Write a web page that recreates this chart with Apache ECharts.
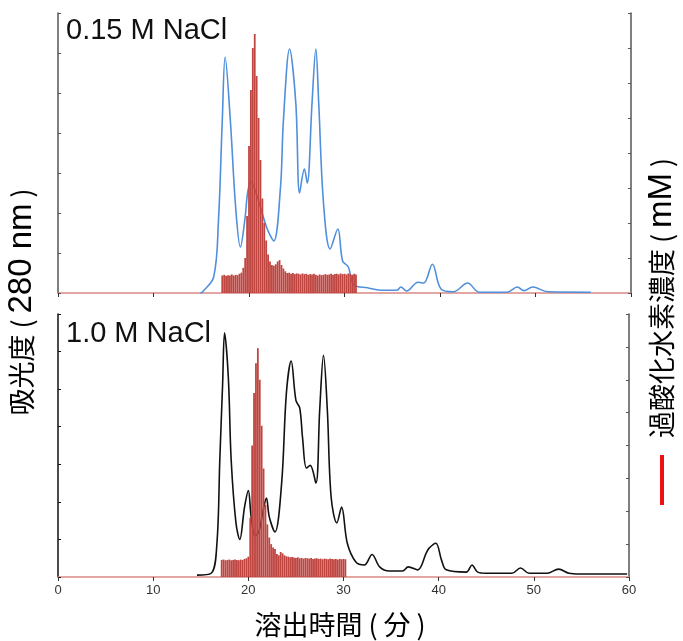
<!DOCTYPE html>
<html>
<head>
<meta charset="utf-8">
<script src="https://cdn.jsdelivr.net/npm/echarts@6/dist/echarts.min.js"></script>
<style>html,body{margin:0;padding:0;background:#fff}#c{width:683px;height:641px}</style>
</head>
<body>
<div id="c"></div>
<script>
// ---- Data ----
const xTicks = [0, 10, 20, 30, 40, 50, 60];

// Top panel (0.15 M NaCl) absorbance 280 nm (blue)
const topAbsTime  = [14.9, 15.1, 16.3, 16.8, 17.2, 17.5, 18.05, 18.6, 19.1, 19.6, 19.85, 20.2, 20.6, 21.0, 21.5, 22.0, 22.6, 23.3, 23.6, 24.25, 24.9, 25.3, 25.8, 26.1, 26.6, 27.0, 27.3, 27.8, 28.5, 29.3, 29.8, 30.4, 31.0, 32.4, 33.8, 35.5, 35.9, 36.5, 37.7, 38.3, 39.2, 40.1, 41.4, 42.9, 44.1, 47.0, 48.1, 48.8, 49.7, 51.3, 55.8];
const topAbsValue = [0.0, 0.02, 0.4, 1.8, 4.3, 5.9, 4.3, 2.15, 1.15, 1.9, 2.5, 2.8, 2.6, 2.3, 1.9, 1.55, 1.3, 2.65, 4.3, 6.1, 4.75, 2.5, 3.1, 2.75, 4.75, 6.1, 4.75, 2.25, 1.1, 1.6, 0.8, 0.65, 0.2, 0.13, 0.07, 0.07, 0.15, 0.05, 0.27, 0.25, 0.72, 0.1, 0.03, 0.25, 0.02, 0.02, 0.15, 0.06, 0.15, 0.03, 0.02];

// Top panel hydrogen peroxide (red bars)
const topH2O2Time  = [17.2, 17.4, 17.6, 17.8, 18.0, 18.2, 18.4, 18.6, 18.8, 19.0, 19.2, 19.4, 19.6, 19.8, 20.0, 20.2, 20.4, 20.6, 20.8, 21.0, 21.2, 21.4, 21.6, 21.8, 22.0, 22.2, 22.4, 22.6, 22.8, 23.0, 23.2, 23.4, 23.6, 23.8, 24.0, 24.2, 24.4, 24.6, 24.8, 25.0, 25.2, 25.4, 25.6, 25.8, 26.0, 26.2, 26.4, 26.6, 26.8, 27.0, 27.2, 27.4, 27.6, 27.8, 28.0, 28.2, 28.4, 28.6, 28.8, 29.0, 29.2, 29.4, 29.6, 29.8, 30.0, 30.2, 30.4, 30.6, 30.8, 31.0, 31.2];
const topH2O2Value = [0.50, 0.52, 0.49, 0.51, 0.50, 0.53, 0.50, 0.52, 0.51, 0.55, 0.58, 0.72, 1.00, 2.20, 4.20, 5.80, 7.00, 7.40, 6.20, 5.00, 3.80, 2.70, 2.00, 1.50, 1.10, 0.90, 0.80, 0.78, 0.82, 0.90, 0.94, 0.80, 0.70, 0.62, 0.57, 0.58, 0.55, 0.57, 0.54, 0.56, 0.55, 0.53, 0.56, 0.54, 0.55, 0.52, 0.54, 0.53, 0.55, 0.52, 0.50, 0.53, 0.51, 0.52, 0.54, 0.52, 0.53, 0.55, 0.52, 0.54, 0.55, 0.53, 0.56, 0.54, 0.55, 0.53, 0.56, 0.54, 0.52, 0.55, 0.53];

// Bottom panel (1.0 M NaCl) absorbance 280 nm (black)
const botAbsTime  = [14.6, 16.1, 16.7, 17.0, 17.3, 17.5, 17.9, 18.2, 18.7, 19.1, 19.6, 20.0, 20.3, 20.7, 21.1, 21.5, 21.9, 22.2, 22.8, 23.5, 24.0, 24.5, 25.0, 25.4, 25.7, 26.1, 26.5, 27.1, 27.5, 27.9, 28.3, 28.7, 29.3, 29.8, 30.4, 31.3, 32.2, 33.0, 33.8, 34.8, 36.2, 36.8, 37.8, 38.7, 39.0, 39.7, 40.3, 40.8, 42.9, 43.5, 44.1, 45.0, 47.7, 48.6, 49.5, 51.4, 52.6, 53.7, 54.8, 59.8];
const botAbsValue = [0.05, 0.1, 0.9, 3.1, 5.15, 6.5, 5.3, 3.1, 1.44, 1.0, 1.86, 2.3, 1.6, 1.1, 1.2, 1.7, 2.1, 1.6, 1.2, 2.5, 4.9, 5.75, 4.7, 4.5, 3.7, 2.9, 2.97, 2.5, 4.45, 5.9, 4.45, 2.13, 1.44, 1.86, 0.9, 0.4, 0.32, 0.6, 0.27, 0.16, 0.16, 0.27, 0.19, 0.64, 0.77, 0.9, 0.45, 0.19, 0.13, 0.32, 0.13, 0.1, 0.1, 0.24, 0.1, 0.1, 0.21, 0.1, 0.08, 0.08];

// Bottom panel hydrogen peroxide (red bars)
const botH2O2Time  = [17.2, 17.4, 17.6, 17.8, 18.0, 18.2, 18.4, 18.6, 18.8, 19.0, 19.2, 19.4, 19.6, 19.8, 20.0, 20.2, 20.4, 20.6, 20.8, 21.0, 21.2, 21.4, 21.6, 21.8, 22.0, 22.2, 22.4, 22.6, 22.8, 23.0, 23.2, 23.4, 23.6, 23.8, 24.0, 24.2, 24.4, 24.6, 24.8, 25.0, 25.2, 25.4, 25.6, 25.8, 26.0, 26.2, 26.4, 26.6, 26.8, 27.0, 27.2, 27.4, 27.6, 27.8, 28.0, 28.2, 28.4, 28.6, 28.8, 29.0, 29.2, 29.4, 29.6, 29.8, 30.0, 30.2];
const botH2O2Value = [0.52, 0.53, 0.51, 0.52, 0.53, 0.51, 0.52, 0.53, 0.52, 0.51, 0.53, 0.52, 0.55, 0.57, 0.62, 1.80, 4.00, 5.60, 6.50, 6.96, 6.00, 4.60, 3.30, 2.20, 1.60, 1.20, 1.00, 0.90, 0.85, 0.70, 0.66, 0.76, 0.72, 0.66, 0.63, 0.62, 0.60, 0.61, 0.59, 0.58, 0.60, 0.57, 0.58, 0.56, 0.58, 0.57, 0.56, 0.58, 0.55, 0.56, 0.57, 0.55, 0.56, 0.54, 0.56, 0.55, 0.54, 0.56, 0.55, 0.54, 0.55, 0.53, 0.55, 0.54, 0.55, 0.54];

const panelLabels = ['0.15 M NaCl', '1.0 M NaCl'];
// axis titles: [CJK part, unit part]
const xAxisName = ['溶出時間', '分'];
const leftAxisName = ['吸光度', '280 nm'];
const rightAxisName = ['過酸化水素濃度', 'mM'];

// ---- Chart ----
const pair = (a, b) => a.map((t, i) => [t, b[i]]);
const chart = echarts.init(document.getElementById('c'), null, {renderer: 'canvas'});
const cjk = '"Noto Sans CJK JP", "Noto Sans", sans-serif';
const latin = '"Liberation Sans", Arial, sans-serif';
const redAxis = '#d98a88';

const richStyles = {
  c: {fontFamily: cjk, fontSize: 27, color: '#111'},
  u: {fontFamily: latin, fontSize: 33, color: '#111'},
  uc: {fontFamily: cjk, fontSize: 27, color: '#111'},
  p: {fontFamily: cjk, fontSize: 27, color: '#111', width: 21, align: 'center'}
};
function titleText(parts, unitStyle) {
  return '{c|' + parts[0] + '}{p|(}{' + unitStyle + '|' + parts[1] + '}{p|)}';
}

function xAxisCfg(grid, showLabels) {
  return {
    type: 'value', gridIndex: grid, min: 0, max: 60, interval: 10,
    axisLine: {show: true, lineStyle: {color: redAxis, width: 1.5}},
    axisTick: {show: true, length: 4, lineStyle: {color: '#333'}},
    axisLabel: {show: showLabels, fontSize: 13, color: '#333', fontFamily: latin, margin: 7},
    splitLine: {show: false}
  };
}
function yAxisCfg(grid, pos, max, color) {
  return {
    type: 'value', gridIndex: grid, position: pos, min: 0, max: max, interval: 1,
    axisLine: {show: true, onZero: false, lineStyle: {color: color, width: 1.5}},
    axisTick: {show: true, inside: true, length: 3, lineStyle: {color: color}},
    axisLabel: {show: false},
    splitLine: {show: false}
  };
}

chart.setOption({
  animation: false,
  backgroundColor: '#fff',
  grid: [
    {left: 58, right: 52, top: 13, height: 280},
    {left: 58, right: 54, top: 314, height: 263}
  ],
  xAxis: [xAxisCfg(0, false), xAxisCfg(1, true)],
  yAxis: [
    yAxisCfg(0, 'left', 7, '#555'),
    yAxisCfg(0, 'right', 8, '#555'),
    yAxisCfg(1, 'left', 7, '#111'),
    yAxisCfg(1, 'right', 8, '#555')
  ],
  series: [
    {type: 'line', xAxisIndex: 0, yAxisIndex: 0, data: pair(topAbsTime, topAbsValue),
     smooth: 0.35, showSymbol: false, lineStyle: {color: '#4f8fdc', width: 1.6}, z: 2},
    {type: 'bar', xAxisIndex: 0, yAxisIndex: 1, data: pair(topH2O2Time, topH2O2Value),
     barWidth: 1.8, itemStyle: {color: '#bf4541'}, z: 3},
    {type: 'line', xAxisIndex: 1, yAxisIndex: 2, data: pair(botAbsTime, botAbsValue),
     smooth: 0.35, showSymbol: false, lineStyle: {color: '#111', width: 1.6}, z: 2},
    {type: 'bar', xAxisIndex: 1, yAxisIndex: 3, data: pair(botH2O2Time, botH2O2Value),
     barWidth: 1.8, itemStyle: {color: '#bf4541'}, z: 3}
  ],
  graphic: [
    {type: 'text', left: 66, top: 16, style: {text: panelLabels[0], font: '29px ' + latin, fill: '#111'}},
    {type: 'text', left: 66, top: 319, style: {text: panelLabels[1], font: '29px ' + latin, fill: '#111'}},
    {type: 'text', x: 343, y: 625, style: {text: titleText(xAxisName, 'uc'), rich: richStyles, align: 'center', verticalAlign: 'middle'}},
    {type: 'text', x: 22, y: 299, rotation: Math.PI / 2, style: {text: titleText(leftAxisName, 'u'), rich: richStyles, align: 'center', verticalAlign: 'middle'}},
    {type: 'text', x: 662, y: 295, rotation: Math.PI / 2, style: {text: titleText(rightAxisName, 'u'), rich: richStyles, align: 'center', verticalAlign: 'middle'}},
    {type: 'rect', shape: {x: 660, y: 455, width: 4, height: 50}, style: {fill: '#ee1111'}}
  ]
});
</script>
</body>
</html>
